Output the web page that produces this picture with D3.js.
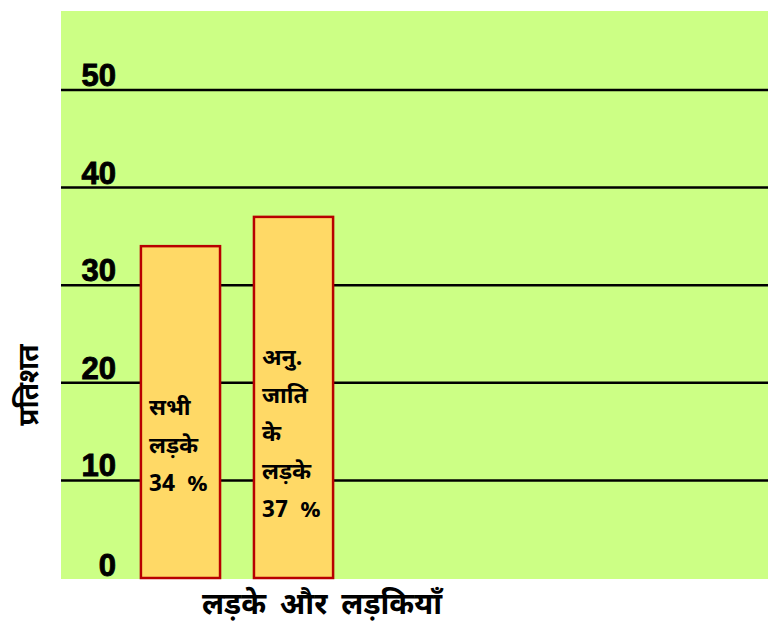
<!DOCTYPE html>
<html>
<head>
<meta charset="utf-8">
<script src="https://cdn.jsdelivr.net/npm/d3@7"></script>
<style>
  body { margin: 0; background: #fff; }
  svg { display: block; }
  .tick-label { font-family: "Liberation Sans", Arial, sans-serif; font-weight: bold; font-size: 31px; fill: #000; stroke: #000; stroke-width: 0.9px; }
  .hi { font-family: "Noto Sans Devanagari", "Noto Sans", sans-serif; font-weight: bold; fill: #000; white-space: pre; }
</style>
</head>
<body>
<svg id="chart" width="768" height="631"></svg>
<script>
// data
let categories = ["सभी लड़के", "अनु. जाति के लड़के"];
let values = [34, 37];
let barLines = [["सभी", "लड़के", "34  %"], ["अनु.", "जाति", "के", "लड़के", "37  %"]];
let ticks = [0, 10, 20, 30, 40, 50];
let yTitle = "प्रतिशत";
let xTitle = "लड़के और लड़कियाँ";

let svg = d3.select("#chart");

let plot = { left: 61, right: 768, top: 11, bottom: 579 };

let x = d3.scaleBand()
    .domain(categories)
    .range([107, 367])
    .paddingInner(0.3)
    .paddingOuter(0.3);

let y = d3.scaleLinear()
    .domain([0, 50])
    .range([578, 90]);

// plot background
svg.append("rect")
    .attr("x", plot.left)
    .attr("y", plot.top)
    .attr("width", plot.right - plot.left)
    .attr("height", plot.bottom - plot.top)
    .attr("fill", "#ccff85");

// gridlines
svg.append("g")
    .selectAll("line")
    .data(ticks.filter(d => d > 0))
    .enter().append("line")
    .attr("x1", plot.left)
    .attr("x2", plot.right)
    .attr("y1", d => y(d))
    .attr("y2", d => y(d))
    .attr("stroke", "#000")
    .attr("stroke-width", 2.5);

// tick labels
svg.append("g")
    .selectAll("text")
    .data(ticks)
    .enter().append("text")
    .attr("class", "tick-label")
    .attr("x", 116)
    .attr("y", d => d === 0 ? y(d) - 2 : y(d) - 4)
    .attr("text-anchor", "end")
    .text(d => d);

// bars
svg.append("g")
    .selectAll("rect")
    .data(values)
    .enter().append("rect")
    .attr("x", (d, i) => x(categories[i]))
    .attr("y", d => y(d))
    .attr("width", x.bandwidth())
    .attr("height", d => y(0) - y(d))
    .attr("fill", "#ffd966")
    .attr("stroke", "#b80000")
    .attr("stroke-width", 2.5);

// bar labels
let lab = svg.append("g");
barLines.forEach(function(lines, i) {
    let n = lines.length;
    lab.selectAll(null)
        .data(lines)
        .enter().append("text")
        .attr("class", "hi")
        .attr("font-size", 23)
        .attr("x", x(categories[i]) + 8)
        .attr("y", (d, j) => 491 + (i === 1 ? 26 : 0) - (n - 1 - j) * 38)
        .text(d => d);
});

// axis titles
svg.append("text")
    .attr("class", "hi")
    .attr("font-size", 28)
    .attr("text-anchor", "middle")
    .attr("transform", "translate(38,385) rotate(-90)")
    .text(yTitle);

svg.append("text")
    .attr("class", "hi")
    .attr("font-size", 30)
    .attr("word-spacing", 6)
    .attr("text-anchor", "middle")
    .attr("x", 322)
    .attr("y", 614)
    .text(xTitle);
</script>
</body>
</html>
